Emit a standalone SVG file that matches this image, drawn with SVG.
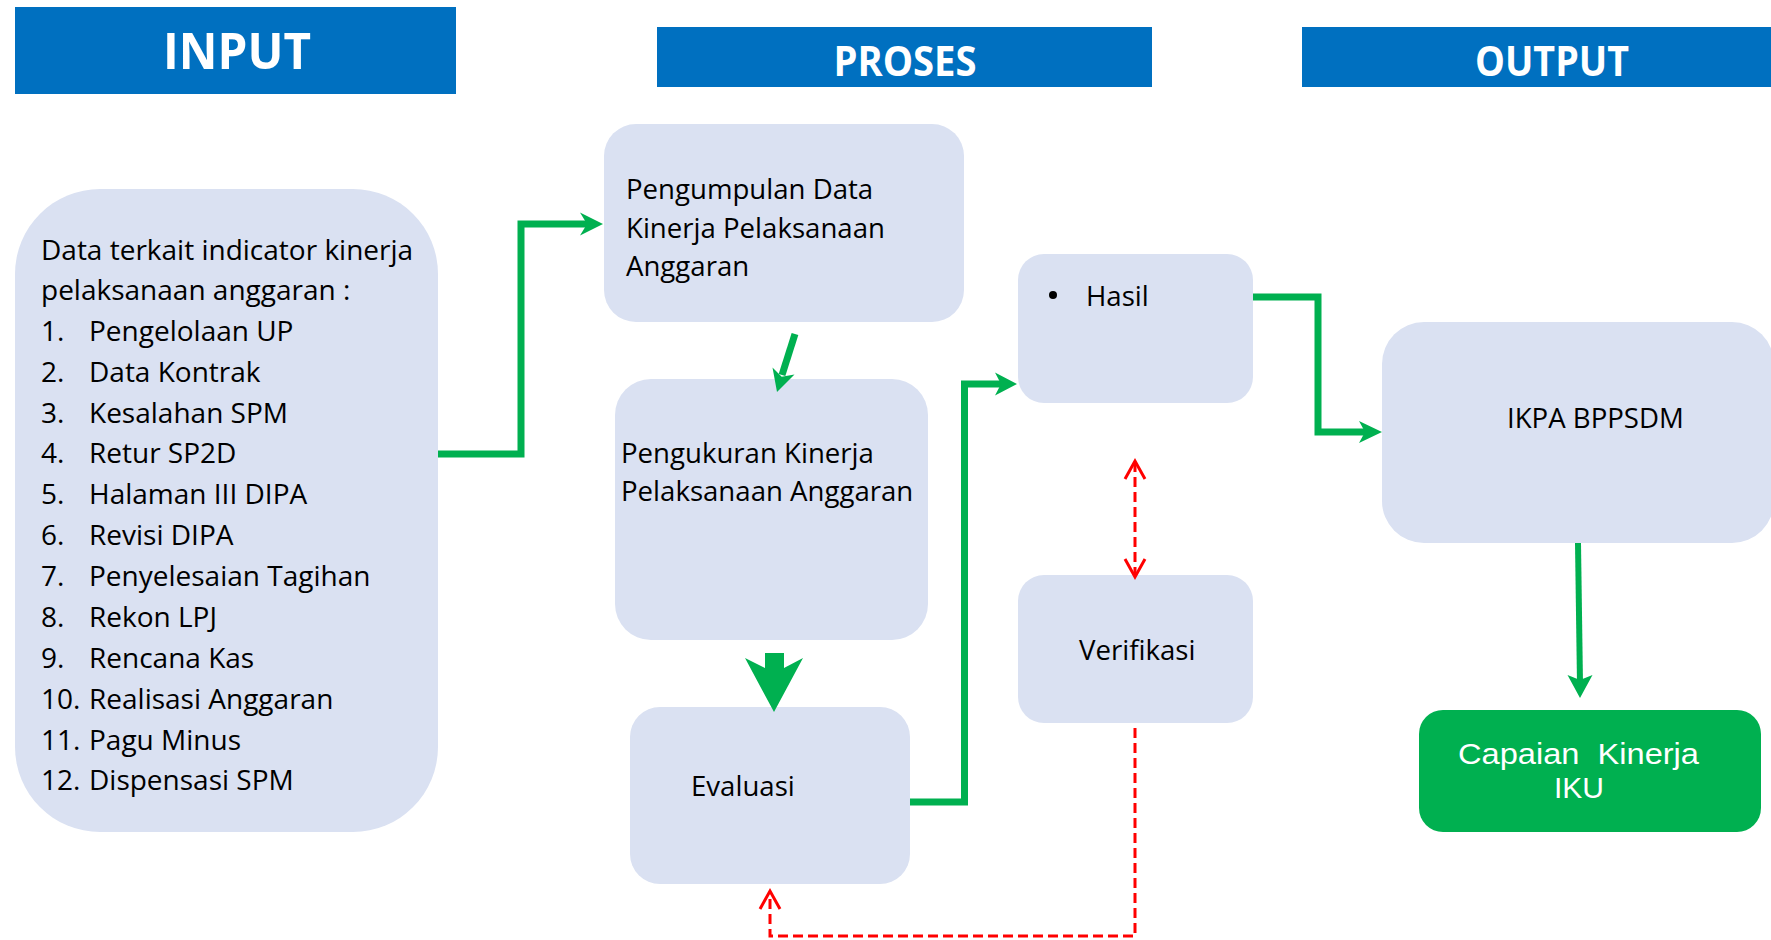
<svg xmlns="http://www.w3.org/2000/svg" width="1771" height="940" viewBox="0 0 1771 940">
  <style>
    .hdr { fill: #0070c0; }
    .hdr-t { fill: #ffffff; font-family: "Open Sans", "Liberation Sans", sans-serif; font-weight: 700; text-anchor: middle; }
    .box { fill: #dae1f2; }
    .t { fill: #000000; font-family: "Open Sans", "Liberation Sans", sans-serif; font-size: 27.6px; }
    .lst { fill: #000000; font-family: "Open Sans", "Liberation Sans", sans-serif; font-size: 28px; }
    .out-t { fill: #ffffff; font-family: "Liberation Sans", Arial, sans-serif; font-size: 30px; }
    .flow { fill: none; stroke: #00b050; stroke-width: 7; stroke-linejoin: miter; }
    .head { fill: #00b050; }
    .chk { fill: none; stroke: #ff0000; stroke-width: 3; stroke-dasharray: 10 5; }
    .chk-head { fill: none; stroke: #ff0000; stroke-width: 3; }
  </style>

  <rect width="1771" height="940" fill="#ffffff"/>

  <!-- column headers -->
  <g id="header-input">
    <rect class="hdr" x="15" y="7" width="441" height="87"/>
    <text class="hdr-t" x="237" y="69" font-size="50" textLength="148" lengthAdjust="spacingAndGlyphs">INPUT</text>
  </g>
  <g id="header-proses">
    <rect class="hdr" x="657" y="27" width="495" height="60"/>
    <text class="hdr-t" x="905" y="76" font-size="42" textLength="143" lengthAdjust="spacingAndGlyphs">PROSES</text>
  </g>
  <g id="header-output">
    <rect class="hdr" x="1302" y="27" width="469" height="60"/>
    <text class="hdr-t" x="1552" y="76" font-size="42" textLength="154" lengthAdjust="spacingAndGlyphs">OUTPUT</text>
  </g>

  <!-- input data -->
  <g id="node-input">
    <rect class="box" x="15" y="189" width="423" height="643" rx="85" ry="85"/>
    <text class="lst" x="41" y="260">Data terkait indicator kinerja</text>
    <text class="lst" x="41" y="300">pelaksanaan anggaran :</text>
    <g class="lst">
      <text x="41" y="341">1.</text><text x="89" y="341">Pengelolaan UP</text>
      <text x="41" y="382">2.</text><text x="89" y="382">Data Kontrak</text>
      <text x="41" y="423">3.</text><text x="89" y="423">Kesalahan SPM</text>
      <text x="41" y="463">4.</text><text x="89" y="463">Retur SP2D</text>
      <text x="41" y="504">5.</text><text x="89" y="504">Halaman III DIPA</text>
      <text x="41" y="545">6.</text><text x="89" y="545">Revisi DIPA</text>
      <text x="41" y="586">7.</text><text x="89" y="586">Penyelesaian Tagihan</text>
      <text x="41" y="627">8.</text><text x="89" y="627">Rekon LPJ</text>
      <text x="41" y="668">9.</text><text x="89" y="668">Rencana Kas</text>
      <text x="41" y="709">10.</text><text x="89" y="709">Realisasi Anggaran</text>
      <text x="41" y="750">11.</text><text x="89" y="750">Pagu Minus</text>
      <text x="41" y="790">12.</text><text x="89" y="790">Dispensasi SPM</text>
    </g>
  </g>

  <!-- process steps -->
  <g id="node-pengumpulan">
    <rect class="box" x="604" y="124" width="360" height="198" rx="32" ry="32"/>
    <text class="t" x="626" y="199">Pengumpulan Data</text>
    <text class="t" x="626" y="238">Kinerja Pelaksanaan</text>
    <text class="t" x="626" y="276">Anggaran</text>
  </g>
  <g id="node-pengukuran">
    <rect class="box" x="615" y="379" width="313" height="261" rx="36" ry="36"/>
    <text class="t" x="621" y="463">Pengukuran Kinerja</text>
    <text class="t" x="621" y="501">Pelaksanaan Anggaran</text>
  </g>
  <g id="node-evaluasi">
    <rect class="box" x="630" y="707" width="280" height="177" rx="30" ry="30"/>
    <text class="t" x="691" y="796">Evaluasi</text>
  </g>
  <g id="node-hasil">
    <rect class="box" x="1018" y="254" width="235" height="149" rx="26" ry="26"/>
    <circle cx="1053" cy="295" r="4" fill="#000000"/>
    <text class="t" x="1086" y="306">Hasil</text>
  </g>
  <g id="node-verifikasi">
    <rect class="box" x="1018" y="575" width="235" height="148" rx="26" ry="26"/>
    <text class="t" x="1079" y="660">Verifikasi</text>
  </g>

  <!-- outputs -->
  <g id="node-ikpa">
    <rect class="box" x="1382" y="322" width="392" height="221" rx="42" ry="42"/>
    <text class="t" x="1507" y="428">IKPA BPPSDM</text>
  </g>
  <g id="node-capaian">
    <rect x="1419" y="710" width="342" height="122" rx="24" ry="24" fill="#00b050"/>
    <text class="out-t" x="1458" y="764" textLength="241" lengthAdjust="spacingAndGlyphs" xml:space="preserve">Capaian  Kinerja</text>
    <text class="out-t" x="1554" y="798">IKU</text>
  </g>

  <!-- connectors -->
  <g id="connectors">
    <!-- input -> pengumpulan -->
    <polyline class="flow" points="438,454 521,454 521,224 589,224"/>
    <path class="head" d="M603,224 L580,212.5 L587,224 L580,235.5 Z"/>

    <!-- pengumpulan -> pengukuran -->
    <line class="flow" x1="795" y1="334" x2="782" y2="375"/>
    <path class="head" d="M777,392 L772.5,367.6 L781.7,376.7 L794.5,374.4 Z"/>

    <!-- pengukuran -> evaluasi (block arrow) -->
    <path class="head" d="M765,653 H784 V668 L803,658 L774,712 L745,658 L765,668 Z"/>

    <!-- evaluasi -> hasil -->
    <polyline class="flow" points="910,802 964.5,802 964.5,384 1002,384"/>
    <path class="head" d="M1017,384 L995,372.5 L1001,384 L995,395.5 Z"/>

    <!-- hasil -> ikpa -->
    <polyline class="flow" points="1253,297 1318,297 1318,432 1367,432"/>
    <path class="head" d="M1382,432 L1359,421 L1365,432 L1359,443 Z"/>

    <!-- ikpa -> capaian -->
    <line class="flow" x1="1578" y1="543" x2="1580" y2="684" style="stroke-width:6"/>
    <path class="head" d="M1580,698 L1567.5,675 L1580,680 L1592.5,675 Z"/>

    <!-- hasil <-> verifikasi (dashed, both ends) -->
    <line class="chk" x1="1135" y1="462" x2="1135" y2="575"/>
    <polyline class="chk-head" points="1125,479 1135,461 1145,479"/>
    <polyline class="chk-head" points="1125,559 1135,577 1145,559"/>

    <!-- verifikasi -> evaluasi (dashed feedback) -->
    <polyline class="chk" points="1135,728 1135,936 770,936 770,893"/>
    <polyline class="chk-head" points="760,909 770,891 780,909"/>
  </g>
</svg>
